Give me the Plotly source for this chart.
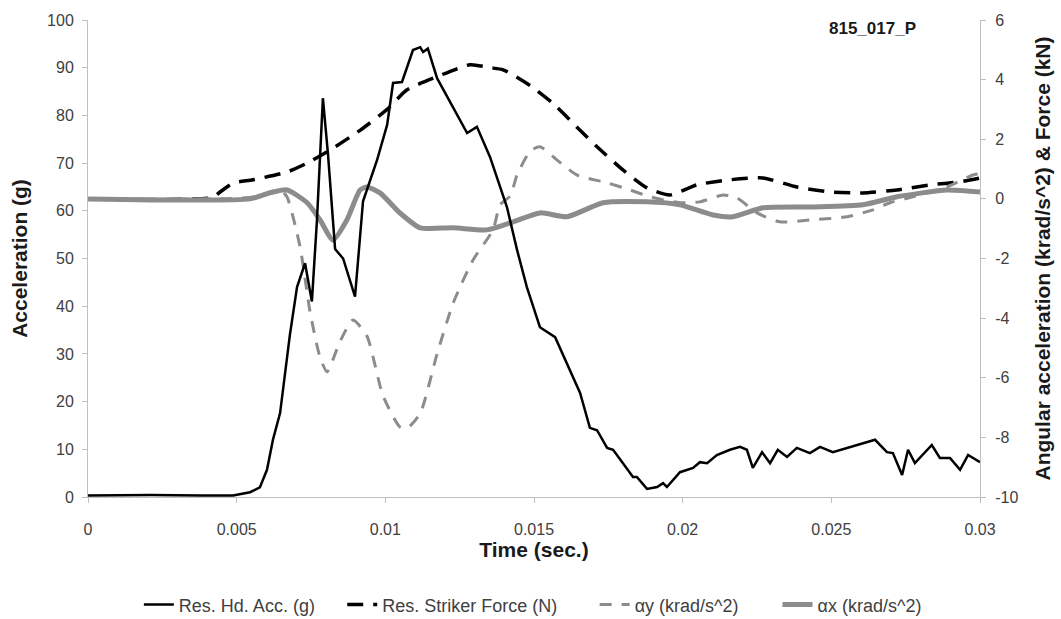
import plotly.graph_objects as go

# ---- Data (time in seconds) ----
acc_t = [0, 0.0021, 0.0038, 0.00488, 0.00545, 0.00578, 0.00602, 0.00622, 0.00646, 0.00679,
         0.00703, 0.0073, 0.00753, 0.0077, 0.0079, 0.00807, 0.00831, 0.00858, 0.00898, 0.00925,
         0.00972, 0.01006, 0.01026, 0.01056, 0.01093, 0.01117, 0.01127, 0.01143, 0.01174, 0.01228,
         0.01275, 0.01308, 0.01352, 0.01409, 0.01443, 0.01476, 0.0152, 0.01571, 0.01655, 0.01688,
         0.01712, 0.01746, 0.01766, 0.01833, 0.01846, 0.0188, 0.01914, 0.01934, 0.01947, 0.01991,
         0.02035, 0.02058, 0.02082, 0.02115, 0.02159, 0.02193, 0.02216, 0.02236, 0.02267, 0.02294,
         0.0232, 0.02351, 0.02384, 0.02428, 0.02462, 0.02505, 0.02563, 0.02606, 0.02647, 0.02687,
         0.02707, 0.02738, 0.02758, 0.02781, 0.02838, 0.02865, 0.02899, 0.02933, 0.0296, 0.03]
acc_g = [0.3, 0.4, 0.3, 0.3, 1.0, 2.0, 5.7, 12, 17.6, 34,
         44, 49, 41, 58, 83.6, 72, 52, 50, 42, 62,
         70.6, 78, 86.8, 87, 93.7, 94.3, 93.3, 94, 87.8, 81.8,
         76.3, 77.6, 71.3, 60.8, 51.8, 44, 35.6, 33.5, 21.8, 14.5,
         14, 10.3, 9.9, 4.2, 4.2, 1.7, 2.1, 2.9, 2.1, 5.2,
         6.1, 7.3, 7.1, 8.8, 9.9, 10.5, 9.9, 6.1, 9.4, 7.1,
         9.9, 8.4, 10.3, 9.2, 10.5, 9.4, 10.5, 11.3, 12, 9.4,
         9.2, 4.6, 9.9, 7.1, 10.9, 8.2, 8.2, 5.7, 8.8, 7.3]

force_t = [0, 0.0042, 0.00444, 0.00488, 0.00555, 0.00669, 0.00737, 0.00824, 0.00915, 0.01006,
           0.01073, 0.01174, 0.01285, 0.01352, 0.01396, 0.01487, 0.01564, 0.01655, 0.01712, 0.01799,
           0.0188, 0.01957, 0.02048, 0.02159, 0.0227, 0.02384, 0.02496, 0.02606, 0.02721, 0.02832,
           0.02933, 0.03]
force_kn = [0, 0.05, 0.23, 0.53, 0.64, 0.9, 1.2, 1.7, 2.3, 3.0,
            3.66, 4.1, 4.5, 4.4, 4.33, 3.8, 3.2, 2.3, 1.75, 0.97,
            0.37, 0.13, 0.47, 0.64, 0.7, 0.4, 0.23, 0.2, 0.3, 0.47,
            0.57, 0.7]

ay_t = [0, 0.00545, 0.00646, 0.00669, 0.00713, 0.00747, 0.0078, 0.00804, 0.00847, 0.00891,
        0.00938, 0.00992, 0.01049, 0.01073, 0.01117, 0.01174, 0.01228, 0.01295, 0.01362, 0.01386,
        0.0142, 0.01443, 0.01487, 0.0152, 0.01578, 0.01645, 0.01746, 0.01823, 0.0189, 0.01991,
        0.02058, 0.02136, 0.02183, 0.0225, 0.02327, 0.02438, 0.02553, 0.0264, 0.02697, 0.02774,
        0.02889, 0.02976, 0.03]
ay_k = [0, 0.05, 0.3, 0.07, -1.6, -3.8, -5.3, -5.8, -4.8, -4.06,
        -4.6, -6.6, -7.65, -7.7, -7.2, -5.2, -3.5, -2.05, -1.04, -0.2,
        0.1, 0.8, 1.6, 1.75, 1.3, 0.8, 0.54, 0.3, 0.07, -0.13,
        -0.1, 0.13, 0.03, -0.47, -0.77, -0.7, -0.6, -0.37, -0.13, 0.07,
        0.4, 0.8, 0.85]

ax_t = [0, 0.00545, 0.00612, 0.00669, 0.00737, 0.0078, 0.00824, 0.00871, 0.00915, 0.00938,
        0.00982, 0.01049, 0.01117, 0.01228, 0.01342, 0.0143, 0.0152, 0.01611, 0.01732, 0.0188,
        0.01991, 0.02102, 0.02169, 0.0227, 0.02438, 0.02606, 0.02721, 0.02889, 0.03]
ax_k = [0, 0.0, 0.2, 0.3, -0.13, -0.7, -1.38, -0.7, 0.3, 0.4,
        0.2, -0.47, -0.97, -0.97, -1.04, -0.77, -0.47, -0.6, -0.13, -0.1,
        -0.2, -0.54, -0.6, -0.3, -0.27, -0.2, 0.07, 0.3, 0.23]

x_ticks = [0, 0.005, 0.01, 0.015, 0.02, 0.025, 0.03]
x_labels = ["0", "0.005", "0.01", "0.015", "0.02", "0.025", "0.03"]
right_ticks = [-10, -8, -6, -4, -2, 0, 2, 4, 6]
right_labels = ["-10", "-8", "-6", "-4", "-2", "0", "2", "4", "6"]

FONT = "Liberation Sans, Arial, sans-serif"
GREY = "#8c8c8c"
AXIS = "#bfbfbf"
TICKC = "#404040"
TITLEC = "#1a1a1a"

fig = go.Figure()
# Acceleration drawn on the overlaying (left) axis so it lies above the other curves
fig.add_trace(go.Scatter(x=acc_t, y=acc_g, mode="lines", name="Res. Hd. Acc. (g)",
                         line=dict(color="black", width=2.5), yaxis="y2", legend="legend"))
fig.add_trace(go.Scatter(x=force_t, y=force_kn, mode="lines", name="Res. Striker Force (N)",
                         line=dict(color="black", width=3.5, dash="16px,10px", shape="spline", smoothing=0.6),
                         yaxis="y", legend="legend2"))
fig.add_trace(go.Scatter(x=ay_t, y=ay_k, mode="lines", name="αy (krad/s^2)",
                         line=dict(color=GREY, width=3, dash="12px,10px", shape="spline", smoothing=0.6),
                         yaxis="y", legend="legend3"))
fig.add_trace(go.Scatter(x=ax_t, y=ax_k, mode="lines", name="αx (krad/s^2)",
                         line=dict(color=GREY, width=5, shape="spline", smoothing=0.6),
                         yaxis="y", legend="legend4"))

common = dict(showgrid=False, zeroline=False, showline=True, linecolor=AXIS, linewidth=1,
              ticks="outside", ticklen=5, tickcolor=AXIS, automargin=False,
              tickfont=dict(size=16, color=TICKC, family=FONT))

LEG_Y = -0.226
def leg(x):
    return dict(orientation="h", x=x, xanchor="left", y=LEG_Y, yanchor="middle",
                font=dict(size=18, color=TICKC, family=FONT), bgcolor="rgba(0,0,0,0)")

fig.update_layout(
    width=1061, height=619,
    margin=dict(l=88, r=81, t=20, b=122, autoexpand=False),
    paper_bgcolor="white", plot_bgcolor="white",
    font=dict(family=FONT, color=TICKC, size=16),
    showlegend=True,
    legend=leg(0.057), legend2=leg(0.285), legend3=leg(0.568), legend4=leg(0.773),
    xaxis=dict(range=[0, 0.03], tickvals=x_ticks, ticktext=x_labels, ticklabelstandoff=13,
               title=dict(text="<b>Time (sec.)</b>", font=dict(size=21, color=TITLEC), standoff=0),
               **common),
    yaxis=dict(range=[-10, 6], tickvals=right_ticks, ticktext=right_labels, side="right",
               ticklabelstandoff=6,
               title=dict(text="<b>Angular acceleration (krad/s^2) & Force (kN)</b>",
                          font=dict(size=21, color=TITLEC), standoff=17),
               **common),
    yaxis2=dict(range=[0, 100], dtick=10, overlaying="y", side="left", ticklabelstandoff=5,
                title=dict(text="<b>Acceleration (g)</b>", font=dict(size=21, color=TITLEC), standoff=13),
                **common),
    annotations=[dict(text="<b>815_017_P</b>", x=0.879, y=0.983, xref="paper", yref="paper",
                      xanchor="center", yanchor="middle", showarrow=False,
                      font=dict(size=17, color=TITLEC, family=FONT))],
)

fig.write_html("out.html", config={"displayModeBar": False},
               post_script="document.body.style.margin='0';document.body.style.overflow='hidden';")
